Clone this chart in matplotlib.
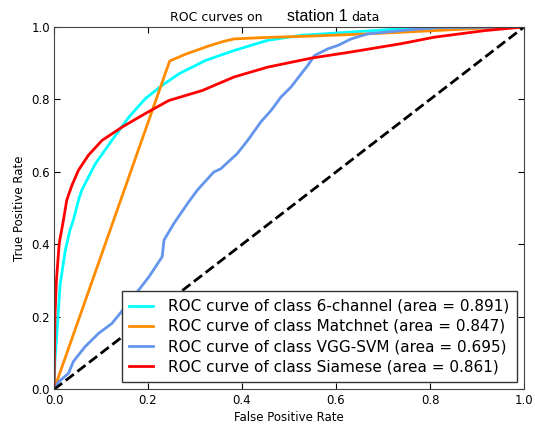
import matplotlib
matplotlib.use('Agg')
import matplotlib.pyplot as plt

# values
fpr_6ch = [0.0, 0.002, 0.006, 0.013, 0.024, 0.034, 0.041, 0.052, 0.059, 0.088, 0.123,
           0.159, 0.194, 0.23, 0.266, 0.323, 0.383, 0.454, 0.526, 0.632, 0.74, 0.845, 1.0]
tpr_6ch = [0.0, 0.08, 0.155, 0.29, 0.384, 0.44, 0.467, 0.522, 0.55, 0.623, 0.687,
           0.751, 0.802, 0.839, 0.871, 0.908, 0.935, 0.963, 0.977, 0.986, 0.995, 0.997, 1.0]

fpr_match = [0.0, 0.246, 0.28, 0.33, 0.36, 0.383, 0.45, 0.55, 0.668, 0.81, 0.917, 1.0]
tpr_match = [0.0, 0.906, 0.925, 0.948, 0.96, 0.967, 0.971, 0.975, 0.981, 0.99, 0.997, 1.0]

fpr_vgg = [0.0, 0.009, 0.031, 0.041, 0.066, 0.095, 0.123, 0.152, 0.18, 0.202, 0.23,
           0.234, 0.255, 0.284, 0.305, 0.34, 0.355, 0.39, 0.412, 0.44, 0.462, 0.483,
           0.504, 0.526, 0.54, 0.554, 0.583, 0.604, 0.632, 0.668, 0.739, 0.81, 1.0]
tpr_vgg = [0.0, 0.02, 0.045, 0.077, 0.118, 0.155, 0.182, 0.228, 0.274, 0.311, 0.366,
           0.412, 0.458, 0.513, 0.55, 0.6, 0.609, 0.651, 0.687, 0.738, 0.77, 0.807,
           0.834, 0.871, 0.894, 0.921, 0.94, 0.949, 0.967, 0.981, 0.99, 0.998, 1.0]

fpr_siam = [0.0, 0.001, 0.002, 0.005, 0.011, 0.02, 0.027, 0.038, 0.052, 0.073, 0.102,
            0.145, 0.194, 0.244, 0.316, 0.383, 0.454, 0.547, 0.632, 0.739, 0.81, 0.917, 1.0]
tpr_siam = [0.0, 0.1, 0.2, 0.3, 0.403, 0.467, 0.522, 0.563, 0.605, 0.646, 0.687,
            0.724, 0.761, 0.797, 0.825, 0.862, 0.889, 0.914, 0.931, 0.954, 0.972, 0.99, 1.0]

names = ['6-channel', 'Matchnet', 'VGG-SVM', 'Siamese']
areas = [0.891, 0.847, 0.695, 0.861]
colors = ['aqua', 'darkorange', 'cornflowerblue', 'red']

plt.rcParams['xtick.direction'] = 'in'
plt.rcParams['ytick.direction'] = 'in'
plt.rcParams['xtick.top'] = True
plt.rcParams['ytick.right'] = True
plt.rcParams['axes.edgecolor'] = '#444444'

fig = plt.figure(figsize=(5.35, 4.28), dpi=100)
ax = fig.add_axes([0.101, 0.09, 0.8785, 0.847])

curves = [(fpr_6ch, tpr_6ch), (fpr_match, tpr_match), (fpr_vgg, tpr_vgg), (fpr_siam, tpr_siam)]
for (fx, ty), nm, ar, c in zip(curves, names, areas, colors):
    ax.plot(fx, ty, color=c, lw=2,
            label='ROC curve of class {0} (area = {1:0.3f})'.format(nm, ar))

ax.plot([0, 1], [0, 1], 'k--', lw=2)

ax.set_xlim(0.0, 1.0)
ax.set_ylim(0.0, 1.0)
ax.set_xticks([0.0, 0.2, 0.4, 0.6, 0.8, 1.0])
ax.set_yticks([0.0, 0.2, 0.4, 0.6, 0.8, 1.0])
ax.tick_params(labelsize=8.5, length=4, pad=3)
ax.set_xlabel('False Positive Rate', fontsize=8.5, labelpad=3)
ax.set_ylabel('True Positive Rate', fontsize=8.5, labelpad=4)

leg = ax.legend(loc='lower right', bbox_to_anchor=(0.9857, 0.0215), borderaxespad=0,
                fontsize=11, fancybox=False, framealpha=1,
                handlelength=1.55, handletextpad=1.0, labelspacing=0.33, borderpad=0.5)
leg.get_frame().set_edgecolor('#333333')

# title pieces: the middle word is in a different, larger face
fig.text(170 / 535, 1 - 20.7 / 428, 'ROC curves on', fontsize=9, va='baseline', ha='left')
fig.text(287 / 535, 1 - 20.7 / 428, 'station 1', fontsize=11.5,
         family='Liberation Sans', va='baseline', ha='left')
fig.text(351 / 535, 1 - 20.7 / 428, 'data', fontsize=9, va='baseline', ha='left')

fig.savefig('out.png', dpi=100)
